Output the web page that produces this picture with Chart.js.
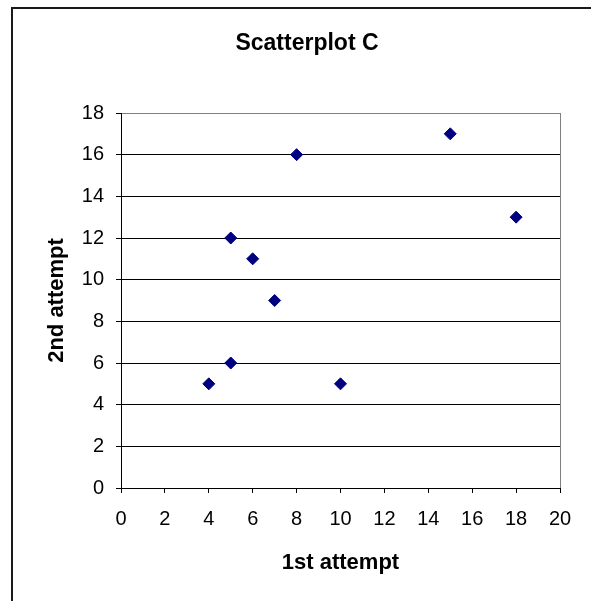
<!DOCTYPE html>
<html>
<head>
<meta charset="utf-8">
<script src="https://cdn.jsdelivr.net/npm/chart.js@4/dist/chart.umd.min.js"></script>
<style>
  html, body { margin: 0; padding: 0; background: #fff; overflow: hidden; }
  #wrap { width: 591px; height: 601px; }
</style>
</head>
<body>
<div id="wrap"><canvas id="c" width="591" height="601"></canvas></div>
<script>
// Scores from two attempts
const firstAttempt  = [4, 5, 5, 6, 7, 8, 10, 15, 18];
const secondAttempt = [5, 6, 12, 11, 9, 16, 5, 17, 13];

const chartTitle = 'Scatterplot C';
const xTitle = '1st attempt';
const yTitle = '2nd attempt';
const xTickMax = 20, yTickMax = 18, tickStep = 2;

const points = firstAttempt.map((x, i) => ({ x: x, y: secondAttempt[i] }));

const FONT = '"Liberation Sans", Arial, sans-serif';

// Frame, chart heading and the grey right edge of the plot box
const framePlugin = {
  id: 'frame',
  beforeDraw(chart) {
    const ctx = chart.ctx;
    ctx.save();
    ctx.fillStyle = '#fff';
    ctx.fillRect(0, 0, chart.width, chart.height);
    ctx.strokeStyle = '#1a1a1a';
    ctx.lineWidth = 2;
    ctx.beginPath();
    ctx.moveTo(12, chart.height + 2);
    ctx.lineTo(12, 8);
    ctx.lineTo(chart.width + 2, 8);
    ctx.stroke();
    ctx.restore();
  },
  afterDraw(chart) {
    const ctx = chart.ctx;
    const a = chart.chartArea;
    ctx.save();
    ctx.strokeStyle = '#808080';
    ctx.lineWidth = 1;
    ctx.beginPath();
    ctx.moveTo(Math.round(a.right) + 0.5, a.top);
    ctx.lineTo(Math.round(a.right) + 0.5, a.bottom);
    ctx.stroke();
    ctx.fillStyle = '#000';
    ctx.font = 'bold 23px ' + FONT;
    ctx.textAlign = 'center';
    ctx.textBaseline = 'alphabetic';
    ctx.fillText(chartTitle, 307, 50);
    ctx.restore();
  }
};

new Chart(document.getElementById('c'), {
  type: 'scatter',
  data: {
    datasets: [{
      data: points,
      pointStyle: 'rectRot',
      pointRadius: 6,
      pointHoverRadius: 6,
      pointBorderWidth: 1,
      backgroundColor: '#000080',
      borderColor: '#000080'
    }]
  },
  options: {
    responsive: false,
    animation: false,
    layout: { padding: { top: 113, right: 31, left: 0, bottom: 0 } },
    plugins: {
      legend: { display: false },
      tooltip: { enabled: false },
      title: { display: false }
    },
    scales: {
      x: {
        type: 'linear',
        min: 0,
        max: xTickMax,
        ticks: {
          stepSize: tickStep,
          color: '#000',
          padding: 14,
          font: { family: FONT, size: 20 }
        },
        grid: {
          drawOnChartArea: false,
          drawTicks: true,
          tickLength: 5,
          tickColor: '#000'
        },
        border: { color: '#000', width: 1 },
        title: {
          display: true,
          text: xTitle,
          color: '#000',
          font: { family: FONT, size: 22, weight: 'bold' },
          padding: { top: 0, bottom: 25 }
        },
        afterFit(scale) { scale.height = 113; }
      },
      y: {
        type: 'linear',
        min: 0,
        max: yTickMax,
        ticks: {
          stepSize: tickStep,
          color: '#000',
          padding: 12,
          font: { family: FONT, size: 20 }
        },
        grid: {
          color: (c) => (c.tick && c.tick.value === yTickMax) ? '#808080' : '#000',
          tickColor: '#000',
          tickLength: 5,
          drawTicks: true
        },
        border: { color: '#000', width: 1 },
        title: {
          display: true,
          text: yTitle,
          color: '#000',
          font: { family: FONT, size: 22, weight: 'bold' },
          padding: { top: 44, bottom: 0 }
        },
        afterFit(scale) { scale.width = 121; }
      }
    }
  },
  plugins: [framePlugin]
});
</script>
</body>
</html>
